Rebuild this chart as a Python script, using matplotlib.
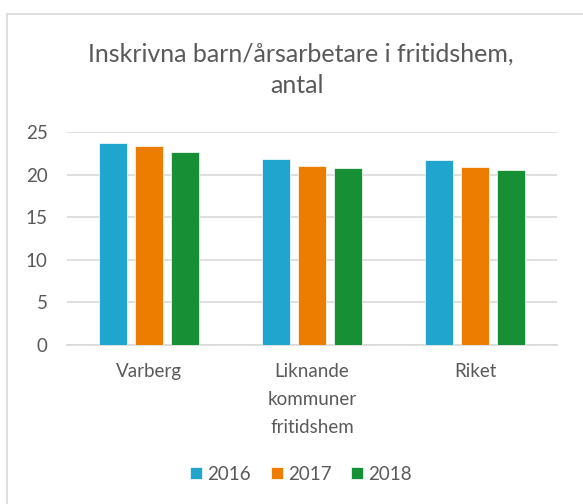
# Plot children per staff in fritidshem.
import numpy as np
import matplotlib.pyplot as plt
from matplotlib.patches import Rectangle

def plot_fritidshem(out_file):
    '''
    Draws grouped bars of enrolled children per annual worker for each area.
    '''
    areas = ['Varberg', 'Liknande\nkommuner\nfritidshem', 'Riket']
    years = ['2016', '2017', '2018']
    values = [[23.7, 21.8, 21.7],   # 2016
              [23.3, 21.0, 20.9],   # 2017
              [22.6, 20.8, 20.5]]   # 2018
    colours = ['#1FA5CE', '#EC7D00', '#168F35']

    plt.rcParams['font.family'] = ['Lato', 'DejaVu Sans']
    grey = '#595959'

    fig = plt.figure(figsize=(5.83, 5.04), dpi=100)
    fig.patches.append(Rectangle((7/583, -0.1), 1.2, 1 - 14/504 + 0.1, transform=fig.transFigure,
                                 fill=False, edgecolor='#D9D9D9', linewidth=1.2))
    ax = fig.add_axes([67/583, 1 - 345/504, 490/583, 213/504])

    x = np.arange(len(areas))
    width = 0.172      # bar width in category units
    step = 0.22        # distance between bar centres
    for i in range(len(years)):
        ax.bar(x + (i - 1)*step, values[i], width, color=colours[i], label=years[i],
               edgecolor='white', linewidth=0.5, zorder=3)

    ax.set_xlim(-0.5, 2.5)
    ax.set_ylim(0, 25)
    ax.set_yticks(range(0, 26, 5))
    ax.grid(axis='y', color='#D9D9D9', linewidth=1.2, zorder=0)
    for side in ['top', 'right', 'left']:
        ax.spines[side].set_visible(False)
    ax.spines['bottom'].set_color('#D9D9D9')
    ax.spines['bottom'].set_linewidth(1.2)
    ax.tick_params(length=0, labelsize=13.5, colors=grey, pad=14)
    ax.tick_params(axis='x', pad=13)
    ax.set_xticks(x)
    ax.set_xticklabels(areas)
    for lbl in ax.get_xticklabels():
        lbl.set_linespacing(1.8)

    fig.text(301/583, 1 - 62/504, 'Inskrivna barn/årsarbetare i fritidshem,', ha='center',
             va='baseline', fontsize=18, color=grey)
    fig.text(297/583, 1 - 93/504, 'antal', ha='center', va='baseline', fontsize=18, color=grey)
    fig.legend(loc='center', bbox_to_anchor=(301/583, 1 - 474/504), ncol=3, frameon=False,
               fontsize=13.5, labelcolor=grey, handlelength=0.64, handleheight=0.64,
               handletextpad=0.27, columnspacing=1.07)
    plt.savefig(out_file)

plot_fritidshem('out.png')
